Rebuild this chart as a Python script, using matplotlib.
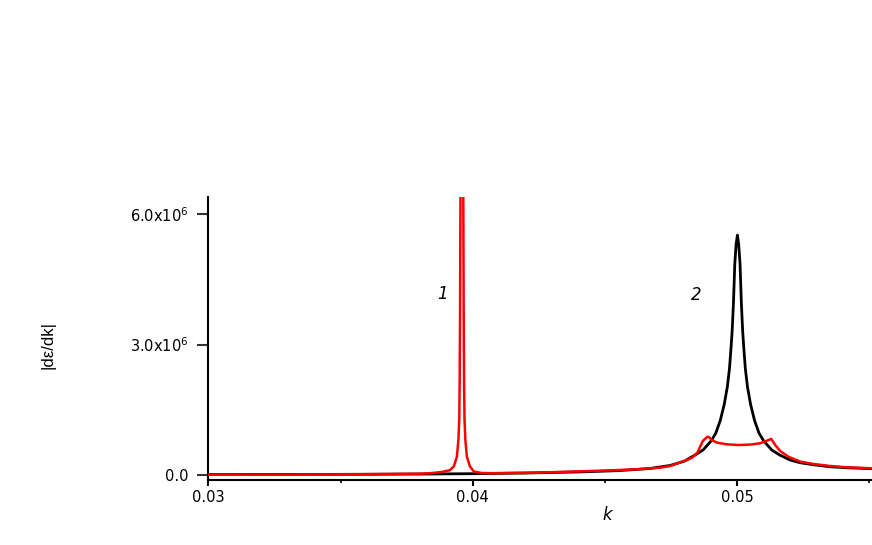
import matplotlib
matplotlib.use("Agg")
import matplotlib.pyplot as plt
from matplotlib.ticker import FixedLocator

plt.rcParams['font.family'] = ['DejaVu Sans']
plt.rcParams['mathtext.fontset'] = 'dejavusans'
plt.rcParams['mathtext.default'] = 'regular'

# ---- data ----
# curve 2 (black)
k_black = [0.0300, 0.0350, 0.0380, 0.0400, 0.0420, 0.0440, 0.0455, 0.0467, 0.04747,
           0.04801, 0.04841, 0.04871, 0.04901, 0.04919, 0.04936, 0.04951, 0.04963,
           0.04971, 0.04976, 0.04981, 0.04986, 0.04991, 0.04996, 0.05001,
           0.05006, 0.05011, 0.05016, 0.05021, 0.05026, 0.05031, 0.05039,
           0.05051, 0.05066, 0.05083, 0.05101, 0.05131, 0.05161, 0.05200, 0.05238,
           0.05288, 0.05350, 0.05420, 0.05510]
v_black = [0.010, 0.015, 0.022, 0.030, 0.045, 0.070, 0.100, 0.150, 0.220,
           0.320, 0.460, 0.575, 0.780, 0.960, 1.250, 1.620, 2.030,
           2.450, 2.850, 3.300, 3.950, 4.850, 5.300, 5.520,
           5.300, 4.850, 3.950, 3.300, 2.850, 2.450, 2.030,
           1.620, 1.250, 0.960, 0.780, 0.575, 0.460, 0.345, 0.283,
           0.237, 0.190, 0.165, 0.145]

# curve 1 (red)
k_red = [0.0300, 0.0320, 0.0340, 0.0360, 0.0380, 0.038455, 0.038834, 0.039136,
         0.039287, 0.039401, 0.039458, 0.039492, 0.039507, 0.039522, 0.039537,
         0.039590,
         0.039643, 0.039658, 0.039673, 0.039688, 0.039722, 0.039779, 0.039893,
         0.040044, 0.040346, 0.040725, 0.0424, 0.0449, 0.0462,
         0.04709, 0.04746, 0.0481, 0.0483, 0.0485, 0.0487, 0.04885, 0.04892,
         0.04905, 0.04924, 0.04961, 0.05005, 0.0505, 0.05087, 0.05113, 0.05129,
         0.05144, 0.05163, 0.05194, 0.05238, 0.05289, 0.05352, 0.05415, 0.05510]
v_red = [0.005, 0.008, 0.012, 0.018, 0.030, 0.045, 0.070, 0.110,
         0.200, 0.420, 0.800, 1.300, 2.200, 3.800, 6.500,
         9.000,
         6.500, 3.800, 2.200, 1.300, 0.800, 0.420, 0.200,
         0.080, 0.045, 0.042, 0.053, 0.100, 0.130,
         0.168, 0.207, 0.345, 0.400, 0.520, 0.780, 0.870, 0.880,
         0.800, 0.745, 0.706, 0.690, 0.700, 0.730, 0.790, 0.830,
         0.690, 0.550, 0.420, 0.310, 0.253, 0.207, 0.177, 0.154]

scale = 1e6
xticks_major = [0.03, 0.04, 0.05]
xtick_labels = ['0.03', '0.04', '0.05']
xticks_minor = [0.035, 0.045, 0.055]
yticks = [0.0, 3.0e6, 6.0e6]
ytick_labels = ['0.0', '3.0x10$^{6}$', '6.0x10$^{6}$']

fig = plt.figure(figsize=(8.72, 5.45), dpi=100)
ax = fig.add_axes([208.3 / 872, 65 / 545, (872 - 208.3) / 872, 282.7 / 545])

ax.plot(k_black, [v * scale for v in v_black], color='black', lw=2.0, zorder=2)
ax.plot(k_red, [v * scale for v in v_red], color='#ff0000', lw=1.8, zorder=3)

ax.set_xlim(0.03, 0.0551)
ax.set_ylim(-0.115e6, 6.39e6)

for s in ['top', 'right']:
    ax.spines[s].set_visible(False)
for s in ['left', 'bottom']:
    ax.spines[s].set_linewidth(1.5)
    ax.spines[s].set_color('black')

ax.xaxis.set_major_locator(FixedLocator(xticks_major))
ax.xaxis.set_minor_locator(FixedLocator(xticks_minor))
ax.set_xticklabels(xtick_labels)
ax.yaxis.set_major_locator(FixedLocator(yticks))
ax.set_yticklabels(ytick_labels)

ax.tick_params(axis='x', which='major', direction='out', length=4, width=1.5,
               pad=3, labelsize=10.5)
ax.tick_params(axis='x', which='minor', direction='out', length=2.5, width=1.2)
ax.tick_params(axis='y', which='major', direction='out', length=8, width=1.5,
               pad=6, labelsize=10.5, color='#333333')

fig.text(607 / 872, 1 - 515 / 545, 'k', fontsize=12, style='italic',
         ha='center', va='center')
fig.text(48 / 872, 1 - 345 / 545, '|dε/dk|', rotation=90, fontsize=12,
         ha='center', va='center',
         family=['Liberation Sans', 'DejaVu Sans'])

fig.text(442 / 872, 1 - 294 / 545, '1', fontsize=12, style='italic',
         ha='center', va='center')
fig.text(696 / 872, 1 - 295 / 545, '2', fontsize=12, style='italic',
         ha='center', va='center')

fig.savefig('out.png', dpi=100)
